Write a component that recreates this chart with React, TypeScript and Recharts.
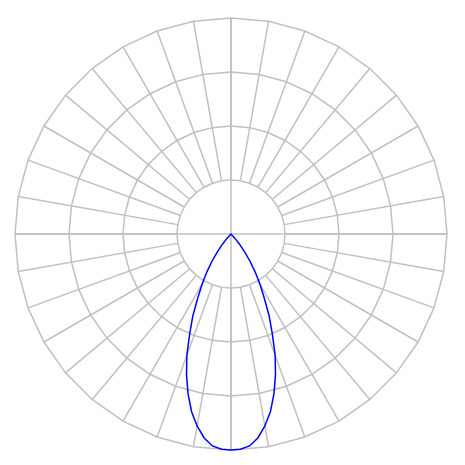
import { RadarChart, Radar, PolarGrid, PolarAngleAxis, PolarRadiusAxis } from "recharts"

// angle measured from straight down (nadir), in degrees
const angles = [
  0, 2.5, 5, 7.5, 10, 12.5, 15, 17.5, 20, 22.5, 25, 27.5, 30, 32.5, 35, 37.5, 40, 42.5, 45,
  90, 180, 270,
  315, 317.5, 320, 322.5, 325, 327.5, 330, 332.5, 335, 337.5, 340, 342.5, 345, 347.5, 350, 352.5, 355, 357.5, 360,
]
const intensity = [
  400, 399, 394, 381, 361, 337, 307, 274, 239, 200, 167, 133, 107, 83, 61, 41, 24, 11, 0,
  0, 0, 0,
  0, 11, 24, 41, 61, 83, 107, 133, 167, 200, 239, 274, 307, 337, 361, 381, 394, 399, 400,
]
const spokeAngles = [
  0, 10, 20, 30, 40, 50, 60, 70, 80, 90, 100, 110, 120, 130, 140, 150, 160, 170,
  180, 190, 200, 210, 220, 230, 240, 250, 260, 270, 280, 290, 300, 310, 320, 330, 340, 350,
]
const crossAngles = [0, 90, 180, 270]
const ringTicks = [100, 200, 300, 400]

const data = angles.map((a, i) => ({ angle: a, value: intensity[i] }))
const crossData = [...crossAngles, 360].map((a) => ({ angle: a }))

const W = 449
const H = 449
const CX = 223
const CY = 226
const R = 216
const gridColor = "#c0c0c0"

export default function App() {
  return (
    <div style={{ position: "relative", width: W, height: H }}>
      {/* cross through the centre */}
      <div style={{ position: "absolute", left: 0, top: 0 }}>
        <RadarChart width={W} height={H} data={crossData} cx={CX} cy={CY} innerRadius={0} outerRadius={R} startAngle={-90} endAngle={270}>
          <PolarGrid gridType="polygon" polarRadius={[]} stroke={gridColor} strokeWidth={1.5} />
          <PolarAngleAxis dataKey="angle" type="number" domain={[0, 360]} ticks={crossAngles} tick={false} axisLine={false} />
          <PolarRadiusAxis domain={[0, 400]} tick={false} axisLine={false} />
        </RadarChart>
      </div>
      <div style={{ position: "absolute", left: 0, top: 0 }}>
        <RadarChart width={W} height={H} data={data} cx={CX} cy={CY} innerRadius={R / 4} outerRadius={R} startAngle={-90} endAngle={270}>
          <PolarGrid gridType="polygon" stroke={gridColor} strokeWidth={1.5} />
          <PolarAngleAxis dataKey="angle" type="number" domain={[0, 360]} ticks={spokeAngles} tick={false} axisLine={false} />
          <PolarRadiusAxis domain={[100, 400]} ticks={ringTicks} allowDataOverflow tick={false} axisLine={false} />
          <Radar dataKey="value" stroke="#0000ff" strokeWidth={1.5} fill="none" dot={false} isAnimationActive={false} />
        </RadarChart>
      </div>
    </div>
  )
}
